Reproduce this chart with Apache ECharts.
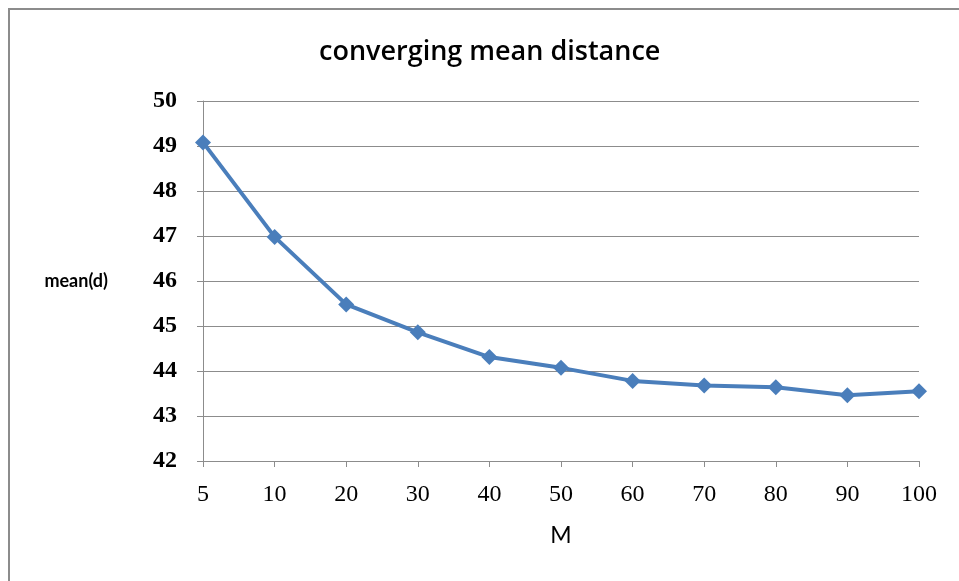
<!DOCTYPE html>
<html>
<head>
<meta charset="utf-8">
<script src="https://cdn.jsdelivr.net/npm/echarts@6/dist/echarts.min.js"></script>
<style>html,body{margin:0;padding:0;background:#fff}#c{width:959px;height:581px}</style>
</head>
<body>
<div id="c"></div>
<script>
var categories = ['5','10','20','30','40','50','60','70','80','90','100'];
var meanD = [49.08, 46.98, 45.48, 44.86, 44.31, 44.07, 43.78, 43.68, 43.64, 43.46, 43.55];
var yTicks = { min: 42, max: 50, interval: 1 };

var chart = echarts.init(document.getElementById('c'));
chart.setOption({
  animation: false,
  backgroundColor: '#fff',
  title: {
    text: 'converging mean distance',
    left: 314,
    top: 34,
    textStyle: { fontFamily: 'Open Sans', fontWeight: 600, fontSize: 27, color: '#000' }
  },
  graphic: [{
    type: 'polyline',
    shape: { points: [[9, 581], [9, 9], [959, 9]] },
    style: { stroke: '#8c8c8c', lineWidth: 2, fill: null }
  }],
  grid: { left: 203, right: 40, top: 101, bottom: 120 },
  xAxis: {
    type: 'category',
    data: categories,
    boundaryGap: false,
    name: 'M',
    nameLocation: 'middle',
    nameGap: 63,
    nameTextStyle: { fontFamily: 'Lato', fontSize: 23, color: '#000' },
    axisLine: { lineStyle: { color: '#8c8c8c', width: 1 } },
    axisTick: { alignWithLabel: true, length: 6, lineStyle: { color: '#8c8c8c' } },
    axisLabel: { margin: 22, fontFamily: 'Liberation Serif', fontSize: 24, color: '#000' },
    splitLine: { show: false }
  },
  yAxis: {
    type: 'value',
    min: yTicks.min,
    max: yTicks.max,
    interval: yTicks.interval,
    name: 'mean(d)',
    nameLocation: 'middle',
    nameRotate: 0,
    nameGap: 95,
    nameTextStyle: { fontFamily: 'Lato', fontWeight: 'bold', fontSize: 18, color: '#000' },
    axisLine: { show: true, lineStyle: { color: '#8c8c8c', width: 1 } },
    axisTick: { show: true, length: 6, lineStyle: { color: '#8c8c8c' } },
    axisLabel: { margin: 26, fontFamily: 'Liberation Serif', fontWeight: 'bold', fontSize: 24, color: '#000' },
    splitLine: { show: true, lineStyle: { color: '#8c8c8c', width: 1 } }
  },
  series: [{
    type: 'line',
    data: meanD,
    symbol: 'diamond',
    symbolSize: 16,
    lineStyle: { color: '#4a7ebb', width: 4 },
    itemStyle: { color: '#4a7ebb' }
  }]
});
</script>
</body>
</html>
